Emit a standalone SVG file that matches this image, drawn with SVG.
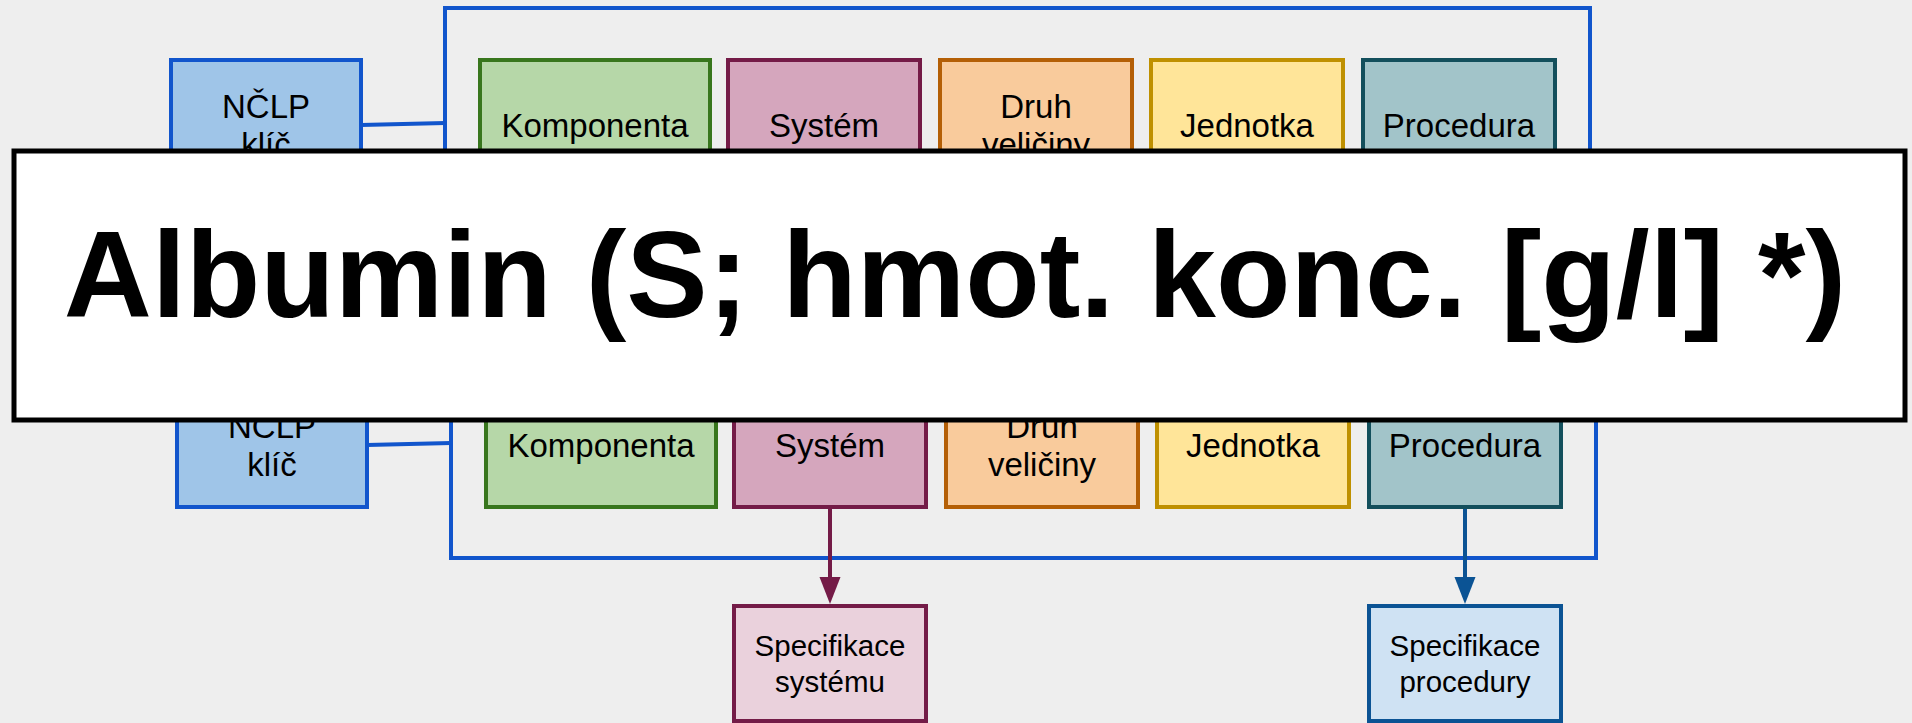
<svg xmlns="http://www.w3.org/2000/svg" width="1912" height="723" viewBox="0 0 1912 723">
<defs>
<style>
text{font-family:"Liberation Sans",Arial,sans-serif;fill:#000;text-anchor:middle}
.t{font-size:33px}
.s{font-size:29.5px}
.frame{fill:none;stroke:#1155cc;stroke-width:4}
.n{stroke-width:4}
.nclp{fill:#9fc5e8;stroke:#1155cc}
.komp{fill:#b6d7a8;stroke:#38761d}
.sys{fill:#d5a6bd;stroke:#741b47}
.druh{fill:#f9cb9c;stroke:#b45f06}
.jed{fill:#ffe599;stroke:#bf9000}
.proc{fill:#a2c4c9;stroke:#134f5c}
.specsys{fill:#ead1dc;stroke:#741b47}
.specproc{fill:#cfe2f3;stroke:#0b5394}
.link{stroke:#1155cc;stroke-width:4;fill:none}
</style>
<marker id="arrM" viewBox="0 0 21 27" refX="21" refY="10.5" markerWidth="21" markerHeight="27" markerUnits="userSpaceOnUse" orient="auto">
<path d="M0,0 L27,10.5 L0,21 Z" fill="#741b47"/>
</marker>
</defs>
<rect width="1912" height="723" fill="#eeeeee"/>

<!-- Upper diagram -->
<g id="frame-top"><rect class="frame" x="445" y="8" width="1145" height="230"/></g>
<g id="connectors-top">
<line class="link" x1="361" y1="125" x2="445" y2="123"/>
</g>
<g id="nclp-top"><rect class="n nclp" x="171" y="60" width="190" height="127"/><text class="t" x="266" y="118">NČLP</text><text class="t" x="266" y="156">klíč</text></g>
<g id="komp-top"><rect class="n komp" x="480" y="60" width="230" height="127"/><text class="t" x="595" y="137">Komponenta</text></g>
<g id="sys-top"><rect class="n sys" x="728" y="60" width="192" height="127"/><text class="t" x="824" y="137">Systém</text></g>
<g id="druh-top"><rect class="n druh" x="940" y="60" width="192" height="127"/><text class="t" x="1036" y="118">Druh</text><text class="t" x="1036" y="156">veličiny</text></g>
<g id="jed-top"><rect class="n jed" x="1151" y="60" width="192" height="127"/><text class="t" x="1247" y="137">Jednotka</text></g>
<g id="proc-top"><rect class="n proc" x="1363" y="60" width="192" height="127"/><text class="t" x="1459" y="137">Procedura</text></g>

<!-- Lower diagram -->
<g id="frame-bottom"><rect class="frame" x="451" y="328" width="1145" height="230"/></g>
<g id="connectors-bottom">
<line class="link" x1="367" y1="445" x2="451" y2="443"/>
<path d="M830,507 V580" stroke="#741b47" stroke-width="4" fill="none"/>
<path d="M819.5,577 L840.5,577 L830,604 Z" fill="#741b47"/>
<path d="M1465,505 V580" stroke="#0b5394" stroke-width="4" fill="none"/>
<path d="M1454.5,577 L1475.5,577 L1465,604 Z" fill="#0b5394"/>
</g>
<g id="nclp-bottom"><rect class="n nclp" x="177" y="380" width="190" height="127"/><text class="t" x="272" y="438">NČLP</text><text class="t" x="272" y="476">klíč</text></g>
<g id="komp-bottom"><rect class="n komp" x="486" y="380" width="230" height="127"/><text class="t" x="601" y="457">Komponenta</text></g>
<g id="sys-bottom"><rect class="n sys" x="734" y="380" width="192" height="127"/><text class="t" x="830" y="457">Systém</text></g>
<g id="druh-bottom"><rect class="n druh" x="946" y="380" width="192" height="127"/><text class="t" x="1042" y="438">Druh</text><text class="t" x="1042" y="476">veličiny</text></g>
<g id="jed-bottom"><rect class="n jed" x="1157" y="380" width="192" height="127"/><text class="t" x="1253" y="457">Jednotka</text></g>
<g id="proc-bottom"><rect class="n proc" x="1369" y="380" width="192" height="127"/><text class="t" x="1465" y="457">Procedura</text></g>
<g id="spec-sys"><rect class="n specsys" x="734" y="606" width="192" height="115"/><text class="s" x="830" y="656">Specifikace</text><text class="s" x="830" y="692">systému</text></g>
<g id="spec-proc"><rect class="n specproc" x="1369" y="606" width="192" height="115"/><text class="s" x="1465" y="656">Specifikace</text><text class="s" x="1465" y="692">procedury</text></g>

<!-- Title overlay -->
<g id="title">
<rect x="14" y="151" width="1891" height="269" fill="#ffffff" stroke="#000" stroke-width="5"/>
<text x="955" y="317" style="font-size:122px;font-weight:bold">Albumin (S; hmot. konc. [g/l] *)</text>
</g>
</svg>
